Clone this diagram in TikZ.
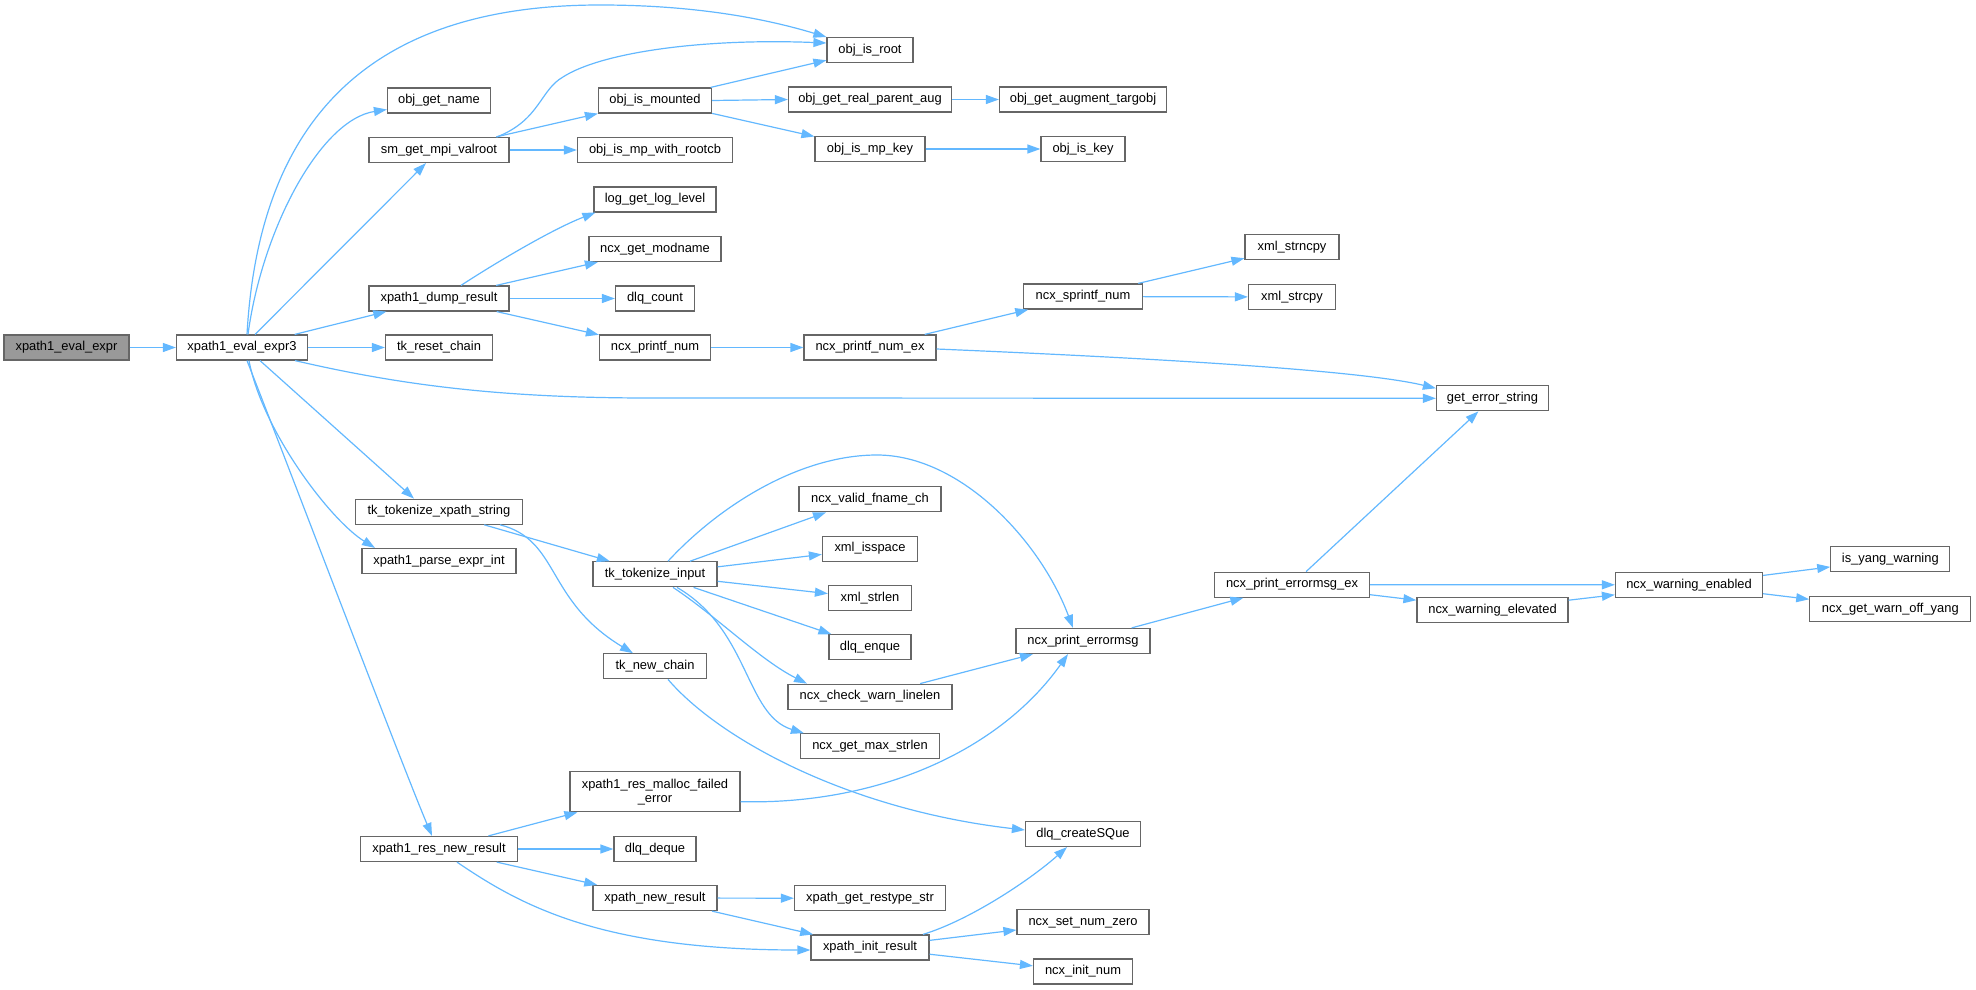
\documentclass[tikz,border=0pt]{standalone}
\usepackage{fontspec}
\setmainfont{Liberation Sans}
\usetikzlibrary{arrows.meta}
\definecolor{edgeblue}{HTML}{63B8FF}
\definecolor{nodeborder}{HTML}{666666}
\definecolor{rootfill}{HTML}{999999}
\tikzset{
  fn/.style={draw=nodeborder, line width=1.2pt, fill=white, minimum height=25pt,
    inner sep=0pt, text height=9.4pt, text depth=3pt,
    font=\fontsize{12.9}{14}\selectfont},
  fntwo/.style={draw=nodeborder, line width=1.2pt, fill=white, minimum height=40pt,
    inner sep=0pt, align=center, font=\fontsize{12.9}{14}\selectfont},
  call/.style={draw=edgeblue, line width=1.2pt, -{Triangle[length=13pt,width=9pt]}},
}
\begin{document}
\begin{tikzpicture}[x=1pt,y=-1pt]
\useasboundingbox (0,0) rectangle (1976,990);
% column 1-2
\node[fn, fill=rootfill, minimum width=125pt] (root) at (66.5,347.5) {xpath1\_eval\_expr};
\node[fn, minimum width=131pt] (e3) at (242,347.5) {xpath1\_eval\_expr3};
% column 3
\node[fn, minimum width=103pt] (ogn) at (439,100.5) {obj\_get\_name};
\node[fn, minimum width=140pt] (smg) at (439,150) {sm\_get\_mpi\_valroot};
\node[fn, minimum width=140pt] (dump) at (439,298.5) {xpath1\_dump\_result};
\node[fn, minimum width=107pt] (tkr) at (439,347.5) {tk\_reset\_chain};
\node[fn, minimum width=167pt] (tkx) at (439,511.7) {tk\_tokenize\_xpath\_string};
\node[fn, minimum width=154pt] (pei) at (439,561) {xpath1\_parse\_expr\_int};
\node[fn, minimum width=157pt] (rnr) at (439,849) {xpath1\_res\_new\_result};
% column 4
\node[fn, minimum width=113pt] (oim) at (655,100.5) {obj\_is\_mounted};
\node[fn, minimum width=155pt] (oimr) at (655,150) {obj\_is\_mp\_with\_rootcb};
\node[fn, minimum width=122pt] (lgl) at (655,199.5) {log\_get\_log\_level};
\node[fn, minimum width=132pt] (gmn) at (655,249) {ncx\_get\_modname};
\node[fn, minimum width=79pt] (dlc) at (655,298.5) {dlq\_count};
\node[fn, minimum width=111pt] (pn) at (655,347.5) {ncx\_printf\_num};
\node[fn, minimum width=124pt] (tki) at (655,574.3) {tk\_tokenize\_input};
\node[fn, minimum width=103pt] (tnc) at (655,666.3) {tk\_new\_chain};
\node[fntwo, minimum width=170pt] (rmf) at (655,791.7) {xpath1\_res\_malloc\_failed\\\_error};
\node[fn, minimum width=82pt] (dqd) at (655,849) {dlq\_deque};
\node[fn, minimum width=124pt] (xnr) at (655,898) {xpath\_new\_result};
% column 5
\node[fn, minimum width=86pt] (oir) at (870,50) {obj\_is\_root};
\node[fn, minimum width=163pt] (orp) at (870,99.5) {obj\_get\_real\_parent\_aug};
\node[fn, minimum width=110pt] (omk) at (870,149) {obj\_is\_mp\_key};
\node[fn, minimum width=132pt] (pnx) at (870,347.5) {ncx\_printf\_num\_ex};
\node[fn, minimum width=142pt] (vfc) at (870,499.3) {ncx\_valid\_fname\_ch};
\node[fn, minimum width=95pt] (xis) at (870,548.7) {xml\_isspace};
\node[fn, minimum width=83pt] (xsl) at (870,598.3) {xml\_strlen};
\node[fn, minimum width=82pt] (dqe) at (870,647.3) {dlq\_enque};
\node[fn, minimum width=164pt] (cwl) at (870,696.7) {ncx\_check\_warn\_linelen};
\node[fn, minimum width=139pt] (gms) at (870,746.3) {ncx\_get\_max\_strlen};
\node[fn, minimum width=151pt] (grs) at (870,898.3) {xpath\_get\_restype\_str};
\node[fn, minimum width=118pt] (xir) at (870,947.5) {xpath\_init\_result};
% column 6
\node[fn, minimum width=167pt] (oat) at (1083,99.5) {obj\_get\_augment\_targobj};
\node[fn, minimum width=84pt] (oik) at (1083,149) {obj\_is\_key};
\node[fn, minimum width=119pt] (spn) at (1083,296.5) {ncx\_sprintf\_num};
\node[fn, minimum width=134pt] (pem) at (1083,641) {ncx\_print\_errormsg};
\node[fn, minimum width=115pt] (csq) at (1083,834) {dlq\_createSQue};
\node[fn, minimum width=132pt] (snz) at (1083,922) {ncx\_set\_num\_zero};
\node[fn, minimum width=99pt] (inm) at (1083,971.5) {ncx\_init\_num};
% column 7+
\node[fn, minimum width=94pt] (xsn) at (1292,247) {xml\_strncpy};
\node[fn, minimum width=87pt] (xsc) at (1292,297) {xml\_strcpy};
\node[fn, minimum width=155pt] (pex) at (1292,584.7) {ncx\_print\_errormsg\_ex};
\node[fn, minimum width=112pt] (ges) at (1492.5,398.3) {get\_error\_string};
\node[fn, minimum width=151pt] (wel) at (1492.5,610.2) {ncx\_warning\_elevated};
\node[fn, minimum width=147pt] (wen) at (1689,584.8) {ncx\_warning\_enabled};
\node[fn, minimum width=119pt] (iyw) at (1890.3,559.3) {is\_yang\_warning};
\node[fn, minimum width=161pt] (gwo) at (1890.3,609) {ncx\_get\_warn\_off\_yang};

% edges
\draw[call] (root) -- (e3);
\draw[call] ([xshift=5pt]e3.north) .. controls (260,100) and (390,5) .. (600,5)
   .. controls (700,5) and (770,20) .. ([yshift=13pt]oir.west);
\draw[call] ([xshift=6pt]e3.north) .. controls (262,230) and (320,120) .. ([yshift=-9pt]ogn.west);
\draw[call] (e3) -- (smg);
\draw[call] (e3) -- (dump);
\draw[call] (e3) -- (tkr);
\draw[call] ([xshift=53pt]e3.south) .. controls (400,385) and (500,398) .. (650,398) -- (ges.west);
\draw[call] ([xshift=18pt]e3.south) -- ([xshift=-25pt]tkx.north);
\draw[call] ([xshift=7pt]e3.south) .. controls (262,430) and (330,520) .. ([xshift=-64pt]pei.north);
\draw[call] ([xshift=5pt]e3.south) .. controls (290,470) and (400,760) .. ([xshift=-7pt]rnr.north);

\draw[call] ([xshift=58pt]smg.north) .. controls (540,120) and (540,90) .. (563,77)
   .. controls (600,53) and (700,38) .. ([yshift=7pt]oir.west);
\draw[call] (smg) -- (oim);
\draw[call] (smg) -- (oimr);
\draw[call] (oim) -- (oir);
\draw[call] (oim.east) -- (orp.west);
\draw[call] (oim) -- (omk);
\draw[call] (orp) -- (oat);
\draw[call] (omk) -- (oik);

\draw[call] ([xshift=22pt]dump.north) .. controls (500,260) and (555,228) .. ([xshift=2pt]lgl.south west);
\draw[call] (dump) -- (gmn);
\draw[call] (dump) -- (dlc);
\draw[call] (dump) -- (pn);
\draw[call] (pn) -- (pnx);
\draw[call] (pnx) -- (spn);
\draw[call] ([yshift=-1.5pt]pnx.east) .. controls (1150,358) and (1360,370) .. ([yshift=10pt]ges.west);
\draw[call] (spn) -- (xsn);
\draw[call] (spn) -- (xsc);

\draw[call] (tkx) -- (tki);
\draw[call] ([xshift=61pt]tkx.south) .. controls (560,540) and (545,600) .. ([xshift=-22pt]tnc.north);
\draw[call] ([xshift=13pt]tki.north) .. controls (720,505) and (800,455) .. (877,455)
   .. controls (960,455) and (1040,540) .. ([xshift=-10pt]pem.north);
\draw[call] ([xshift=35pt]tki.north) -- ([xshift=-44pt]vfc.south);
\draw[call] (tki) -- (xis);
\draw[call] (tki) -- (xsl);
\draw[call] (tki) -- (dqe);
\draw[call] ([xshift=18pt]tki.south) .. controls (715,615) and (760,660) .. ([xshift=-63pt]cwl.north);
\draw[call] ([xshift=22pt]tki.south) .. controls (750,630) and (745,715) .. ([xshift=4pt]gms.north west);
\draw[call] (cwl) -- (pem);
\draw[call] ([xshift=13pt]tnc.south) .. controls (720,740) and (850,810) .. ([yshift=4pt]csq.west);
\draw[call] ([yshift=-10pt]rmf.east) .. controls (880,805) and (1000,750) .. ([xshift=-15pt]pem.south);

\draw[call] (pem) -- (pex);
\draw[call] (pex) -- (ges);
\draw[call] (pex.east) -- (wen.west);
\draw[call] ([yshift=-10pt]pex.east) -- ([yshift=10pt]wel.west);
\draw[call] ([yshift=10pt]wel.east) -- ([yshift=-10pt]wen.west);
\draw[call] (wen) -- (iyw);
\draw[call] (wen) -- (gwo);

\draw[call] (rnr) -- (rmf);
\draw[call] (rnr) -- (dqd);
\draw[call] (rnr) -- (xnr);
\draw[call] ([xshift=18pt]rnr.south) .. controls (520,905) and (600,950) .. ([yshift=-2.5pt]xir.west);
\draw[call] (xnr) -- (grs);
\draw[call] (xnr) -- (xir);
\draw[call] ([xshift=53pt]xir.north) .. controls (970,920) and (1030,880) .. ([xshift=-16pt]csq.south);
\draw[call] (xir) -- (snz);
\draw[call] (xir) -- (inm);
\end{tikzpicture}
\end{document}
